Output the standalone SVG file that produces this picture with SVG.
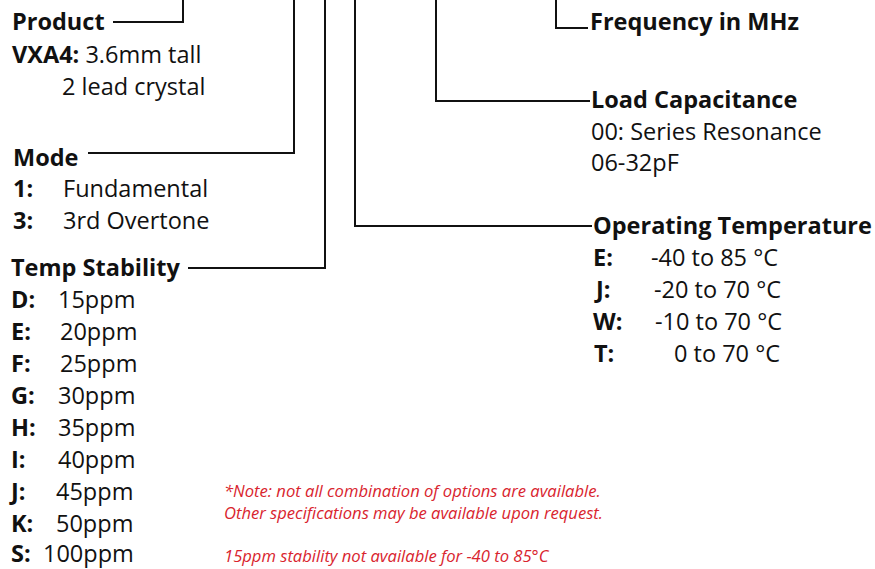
<svg xmlns="http://www.w3.org/2000/svg" width="875" height="569" viewBox="0 0 875 569">
<style>
text{font-family:"Open Sans","Noto Sans",sans-serif;font-size:23.5px;fill:#111}
.b{font-weight:700}
.n{font-style:italic;font-size:16.6px;fill:#d9242e}
.c{fill:none;stroke:#111;stroke-width:2}
</style>
<rect width="875" height="569" fill="#fff"/>
<g id="connectors">
<polyline class="c" points="113,22 183,22 183,0"/>
<polyline class="c" points="88,153 294,153 294,0"/>
<polyline class="c" points="188,268 325,268 325,0"/>
<polyline class="c" points="592,226 355,226 355,0"/>
<polyline class="c" points="590,101 436,101 436,0"/>
<polyline class="c" points="588,28 556,28 556,0"/>
</g>
<g id="product">
<text class="b" x="12" y="30">Product</text>
<text x="12" y="63"><tspan class="b">VXA4:</tspan> 3.6mm tall</text>
<text x="62" y="95">2 lead crystal</text>
</g>
<g id="mode">
<text class="b" x="13" y="166">Mode</text>
<text class="b" x="13" y="197">1:</text><text x="63" y="197">Fundamental</text>
<text class="b" x="13" y="229">3:</text><text x="63" y="229">3rd Overtone</text>
</g>
<g id="temp-stability">
<text class="b" x="11" y="276">Temp Stability</text>
<text class="b" x="11" y="308">D:</text><text x="58" y="308">15ppm</text>
<text class="b" x="11" y="340">E:</text><text x="60" y="340">20ppm</text>
<text class="b" x="11" y="372">F:</text><text x="60" y="372">25ppm</text>
<text class="b" x="11" y="404">G:</text><text x="58" y="404">30ppm</text>
<text class="b" x="11" y="436">H:</text><text x="58" y="436">35ppm</text>
<text class="b" x="11" y="468">I:</text><text x="58" y="468">40ppm</text>
<text class="b" x="11" y="500">J:</text><text x="56" y="500">45ppm</text>
<text class="b" x="11" y="532">K:</text><text x="56" y="532">50ppm</text>
<text class="b" x="11" y="562">S:</text><text x="43" y="562">100ppm</text>
</g>
<g id="frequency">
<text class="b" x="590" y="30">Frequency in MHz</text>
</g>
<g id="load-capacitance">
<text class="b" x="591" y="108">Load Capacitance</text>
<text x="591" y="140">00: Series Resonance</text>
<text x="591" y="171">06-32pF</text>
</g>
<g id="operating-temperature">
<text class="b" x="593" y="234">Operating Temperature</text>
<text class="b" x="593" y="266">E:</text><text x="651" y="266">-40 to 85 °C</text>
<text class="b" x="596" y="298">J:</text><text x="654" y="298">-20 to 70 °C</text>
<text class="b" x="593" y="330">W:</text><text x="655" y="330">-10 to 70 °C</text>
<text class="b" x="594" y="362">T:</text><text x="674" y="362">0 to 70 °C</text>
</g>
<g id="notes">
<text class="n" x="224" y="497">*Note: not all combination of options are available.</text>
<text class="n" x="224" y="519">Other specifications may be available upon request.</text>
<text class="n" x="224" y="562">15ppm stability not available for -40 to 85°C</text>
</g>
</svg>
